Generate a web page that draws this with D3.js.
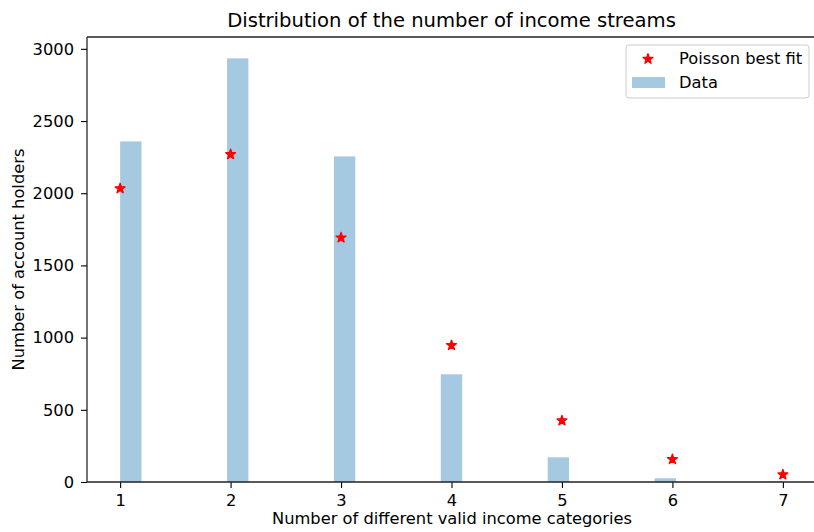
<!DOCTYPE html>
<html>
<head>
<meta charset="utf-8">
<script src="https://cdn.jsdelivr.net/npm/d3@7"></script>
<style>
  body { margin: 0; background: #fff; }
  text { font-family: "DejaVu Sans", sans-serif; fill: #000; }
</style>
</head>
<body>
<svg></svg>
<script>
width = 814;
height = 532;

// number of income streams per account holder
let categories = [1, 2, 3, 4, 5, 6, 7];
let counts = [2359, 2934, 2255, 746, 171, 26, 3];
let poissonFit = [2033, 2269, 1692, 947, 425, 157, 51];
let yTicks = [0, 500, 1000, 1500, 2000, 2500, 3000];
let nBins = 31;

let svg = d3.select("svg").attr("width", width).attr("height", height);

let plotLeft = 87, plotRight = 816, plotTop = 37, plotBottom = 482;
let fs = "16.3px";

let x = d3.scaleLinear().domain([0.7, 7.3]).range([plotLeft, plotRight]);
let y = d3.scaleLinear().domain([0, 3082]).range([plotBottom, plotTop]);

// histogram bins from 1 to 7
let binW = (7 - 1) / nBins;
function binLeft(v) {
    let i = Math.min(Math.floor((v - 1) / binW + 1e-9), nBins - 1);
    return 1 + i * binW;
}

svg.append("g")
    .selectAll("rect")
    .data(categories)
    .join("rect")
    .attr("x", d => x(binLeft(d)))
    .attr("width", d => x(binLeft(d) + binW) - x(binLeft(d)))
    .attr("y", (d, i) => y(counts[i]))
    .attr("height", (d, i) => y(0) - y(counts[i]))
    .style("fill", "#1f77b4")
    .style("opacity", 0.4);

let star = d3.symbol().type(d3.symbolStar).size(30);

svg.append("g")
    .selectAll("path")
    .data(categories)
    .join("path")
    .attr("d", star)
    .attr("transform", (d, i) => "translate(" + x(d) + "," + y(poissonFit[i]) + ")")
    .style("fill", "red")
    .style("stroke", "red")
    .style("stroke-width", 1.4)
    .style("stroke-linejoin", "round");

// axes
let xAxis = svg.append("g")
    .attr("transform", "translate(0," + plotBottom + ")")
    .call(d3.axisBottom(x).tickValues(categories).tickSize(6).tickPadding(6.5).tickFormat(d3.format("d")));
let yAxis = svg.append("g")
    .attr("transform", "translate(" + plotLeft + ",0)")
    .call(d3.axisLeft(y).tickValues(yTicks).tickSize(6).tickPadding(7).tickFormat(d3.format("d")));

[xAxis, yAxis].forEach(a => {
    a.selectAll("text").style("font-size", fs).style("font-family", "DejaVu Sans");
    a.selectAll("line").style("stroke", "#000").style("stroke-width", 1.1);
    a.select(".domain").remove();
});

svg.append("line")
    .attr("x1", plotLeft).attr("x2", plotLeft).attr("y1", plotTop).attr("y2", plotBottom)
    .style("stroke", "#000").style("stroke-width", 1.1);
svg.append("line")
    .attr("x1", plotLeft).attr("x2", plotRight).attr("y1", plotBottom).attr("y2", plotBottom)
    .style("stroke", "#222").style("stroke-width", 1.3);
svg.append("line")
    .attr("x1", plotLeft).attr("x2", plotRight).attr("y1", plotTop).attr("y2", plotTop)
    .style("stroke", "#222").style("stroke-width", 1.3);

// titles
svg.append("text")
    .attr("x", (plotLeft + plotRight) / 2)
    .attr("y", 27)
    .attr("text-anchor", "middle")
    .style("font-size", "19.6px")
    .text("Distribution of the number of income streams");

svg.append("text")
    .attr("x", 452)
    .attr("y", 524)
    .attr("text-anchor", "middle")
    .style("font-size", fs)
    .text("Number of different valid income categories");

svg.append("text")
    .attr("transform", "translate(24," + ((plotTop + plotBottom) / 2) + ") rotate(-90)")
    .attr("text-anchor", "middle")
    .style("font-size", fs)
    .text("Number of account holders");

// legend
let legend = svg.append("g");
legend.append("rect")
    .attr("x", 626).attr("y", 45)
    .attr("width", 183).attr("height", 53)
    .attr("rx", 3)
    .style("fill", "#fff").style("fill-opacity", 0.8)
    .style("stroke", "#ccc").style("stroke-width", 1);
legend.append("path")
    .attr("d", star)
    .attr("transform", "translate(648,59)")
    .style("fill", "red")
    .style("stroke", "red")
    .style("stroke-width", 1.4)
    .style("stroke-linejoin", "round");
legend.append("rect")
    .attr("x", 632).attr("y", 77)
    .attr("width", 33).attr("height", 11)
    .style("fill", "#1f77b4").style("opacity", 0.4);
legend.append("text")
    .attr("x", 679).attr("y", 64)
    .style("font-size", fs)
    .text("Poisson best fit");
legend.append("text")
    .attr("x", 679).attr("y", 88)
    .style("font-size", fs)
    .text("Data");
</script>
</body>
</html>
